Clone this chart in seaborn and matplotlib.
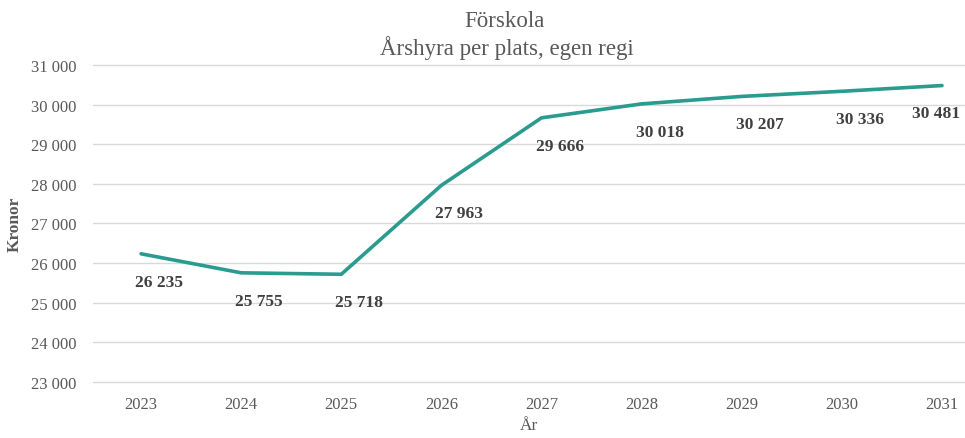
import pandas as pd
import matplotlib.pyplot as plt
import seaborn as sns

years = [2023, 2024, 2025, 2026, 2027, 2028, 2029, 2030, 2031]
rent = [26235, 25755, 25718, 27963, 29666, 30018, 30207, 30336, 30481]
yticks = [23000, 24000, 25000, 26000, 27000, 28000, 29000, 30000, 31000]

df = pd.DataFrame({"year": years, "rent": rent})

sns.set_style("white")
plt.rcParams["font.family"] = ["Liberation Serif", "DejaVu Serif"]

grey = "#595959"
teal = "#2a9b8e"

def sv(v):
    return f"{v:,}".replace(",", " ")

fig = plt.figure(figsize=(9.65, 4.39), dpi=100)
ax = fig.add_axes([0.0964, 0.1276, 0.9036, 0.7221])

for t in yticks:
    ax.axhline(t, color="#d9d9d9", lw=1, zorder=0, clip_on=False)

sns.lineplot(data=df, x="year", y="rent", ax=ax, color=teal, lw=2.6,
             solid_capstyle="round", zorder=3)

for i, (x, y) in enumerate(zip(years, rent)):
    dx = -4 if i == len(years) - 1 else 13
    ax.annotate(sv(y), (x, y), xytext=(dx, -20), textcoords="offset points",
                ha="center", va="center", fontsize=12.5, fontweight="bold",
                color="#404040", annotation_clip=False)

ax.set_xlim(2022.52, 2031.23)
ax.set_ylim(23000, 31000)
ax.set_xticks(years)
ax.set_xticklabels([str(y) for y in years])
ax.set_yticks(yticks)
ax.set_yticklabels([sv(t) for t in yticks])
ax.tick_params(axis="both", length=0, labelsize=12, labelcolor=grey)
ax.tick_params(axis="x", pad=10)
ax.tick_params(axis="y", pad=12)
for s in ax.spines.values():
    s.set_visible(False)

ax.set_xlabel("År", fontsize=12.5, color=grey, labelpad=4)
ax.set_ylabel("Kronor", fontsize=12.5, color=grey, fontweight="bold", labelpad=6)

fig.text(0.523, 0.952, "Förskola", ha="center", va="center", fontsize=16.5, color=grey)
fig.text(0.525, 0.891, "Årshyra per plats, egen regi", ha="center", va="center",
         fontsize=16.5, color=grey)

fig.savefig("out.png", dpi=100)
